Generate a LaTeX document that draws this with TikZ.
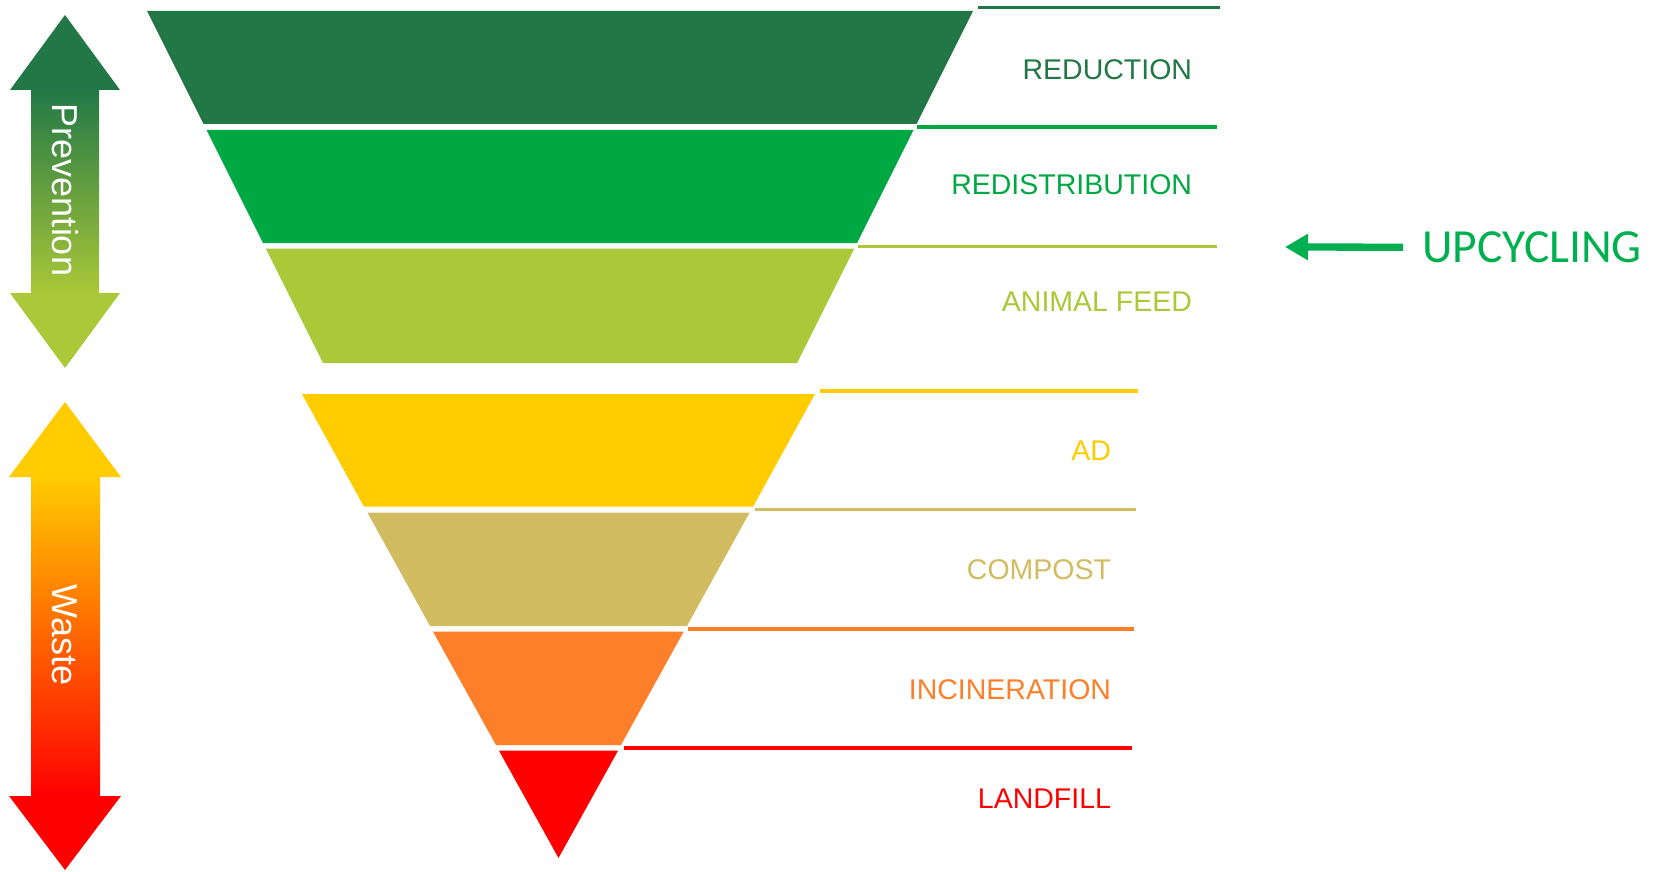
\documentclass[tikz,border=0pt]{standalone}
\usepackage{fontspec}
\setmainfont{Liberation Sans}
\newfontfamily\upcyclingfont{Carlito}
\usetikzlibrary{arrows.meta}

\begin{document}
\begin{tikzpicture}[x=1pt,y=-1pt,
  lvl/.style={inner sep=0, outer sep=0, anchor=east, font=\fontsize{28.5pt}{28.5pt}\selectfont},
  sidetext/.style={inner sep=0, outer sep=0, white, rotate=-90, font=\fontsize{36pt}{36pt}\selectfont},
  band/.style={line width=3.5pt}]
\useasboundingbox (0,0) rectangle (1657,872);
\fill [white] (0,0) rectangle (1657,872);
\definecolor{col_reduction}{RGB}{33, 120, 70}
\definecolor{col_redistribution}{RGB}{0, 168, 68}
\definecolor{col_feed}{RGB}{170, 200, 56}
\definecolor{col_ad}{RGB}{255, 204, 0}
\definecolor{col_compost}{RGB}{210, 188, 98}
\definecolor{col_incineration}{RGB}{253, 127, 42}
\definecolor{col_landfill}{RGB}{255, 0, 0}
\definecolor{col_wastemid}{RGB}{255, 110, 0}
\definecolor{col_upcycling}{RGB}{0, 176, 80}
% prevention arrow
\fill [col_reduction]  (65,15) -- (120,90) -- (10,90) -- cycle;
\shade [top color=col_reduction, bottom color=col_feed]  (31,89) rectangle (99,294);
\fill [col_feed]  (10,293) -- (120,293) -- (65,368) -- cycle;
\node[sidetext] (prevention) at (65,190) {Prevention};
% waste arrow
\fill [col_ad]  (65,402) -- (121,477) -- (9,477) -- cycle;
\shade [top color=col_ad, middle color=col_wastemid, bottom color=col_landfill]  (31,476) rectangle (100,797);
\fill [col_landfill]  (9,796) -- (121,796) -- (65,870) -- cycle;
\node[sidetext] (waste) at (65,635) {Waste};
% upper funnel
\fill [col_reduction]  (147,11) -- (973,11) -- (916.5,124) -- (203.5,124) -- cycle;
\fill [col_redistribution]  (206.5,130) -- (913.5,130) -- (857,243) -- (263,243) -- cycle;
\fill [col_feed]  (265.75,248.5) -- (854.25,248.5) -- (797,363) -- (323,363) -- cycle;
\draw [band, col_reduction]  (977.7,7.3) -- (1220,7.3);
\draw [band, col_redistribution]  (916.5,127) -- (1217,127);
\draw [band, col_feed]  (858,246.7) -- (1217,246.7);
% lower funnel
\fill [col_ad]  (302,394) -- (815,394) -- (753,506.7) -- (364,506.7) -- cycle;
\fill [col_compost]  (367.5,512.7) -- (749.5,512.7) -- (687,626) -- (430,626) -- cycle;
\fill [col_incineration]  (433,631.7) -- (683.6,631.7) -- (621,745) -- (496,745) -- cycle;
\fill [col_landfill]  (499,750.7) -- (618,750.7) -- (558.5,858) -- cycle;
\draw [band, col_ad]  (820,391) -- (1138,391);
\draw [band, col_compost]  (755,509.7) -- (1136,509.7);
\draw [band, col_incineration]  (688,629) -- (1134,629);
\draw [band, col_landfill]  (624,748) -- (1132,748);
% labels
\node[lvl, col_reduction] (reduction) at (1192,70) {REDUCTION};
\node[lvl, col_redistribution] (redistribution) at (1192,185) {REDISTRIBUTION};
\node[lvl, col_feed] (feed) at (1192,301.5) {ANIMAL FEED};
\node[lvl, col_ad] (ad) at (1111,450.5) {AD};
\node[lvl, col_compost] (compost) at (1111,570) {COMPOST};
\node[lvl, col_incineration] (incineration) at (1111,690) {INCINERATION};
\node[lvl, col_landfill] (landfill) at (1111,799) {LANDFILL};
% upcycling
\node[inner sep=0, outer sep=0, anchor=base west, col_upcycling, font=\upcyclingfont\fontsize{47.5pt}{47.5pt}\selectfont] (upcycling) at (1422,262.5) {UPCYCLING};
\coordinate (upTip) at (1285,247);
\draw [line width=7.3pt, col_upcycling, -{Triangle[length=23pt,width=25pt]}, shorten <=19pt]  (upcycling.west) -- (upTip);
\end{tikzpicture}
\end{document}
